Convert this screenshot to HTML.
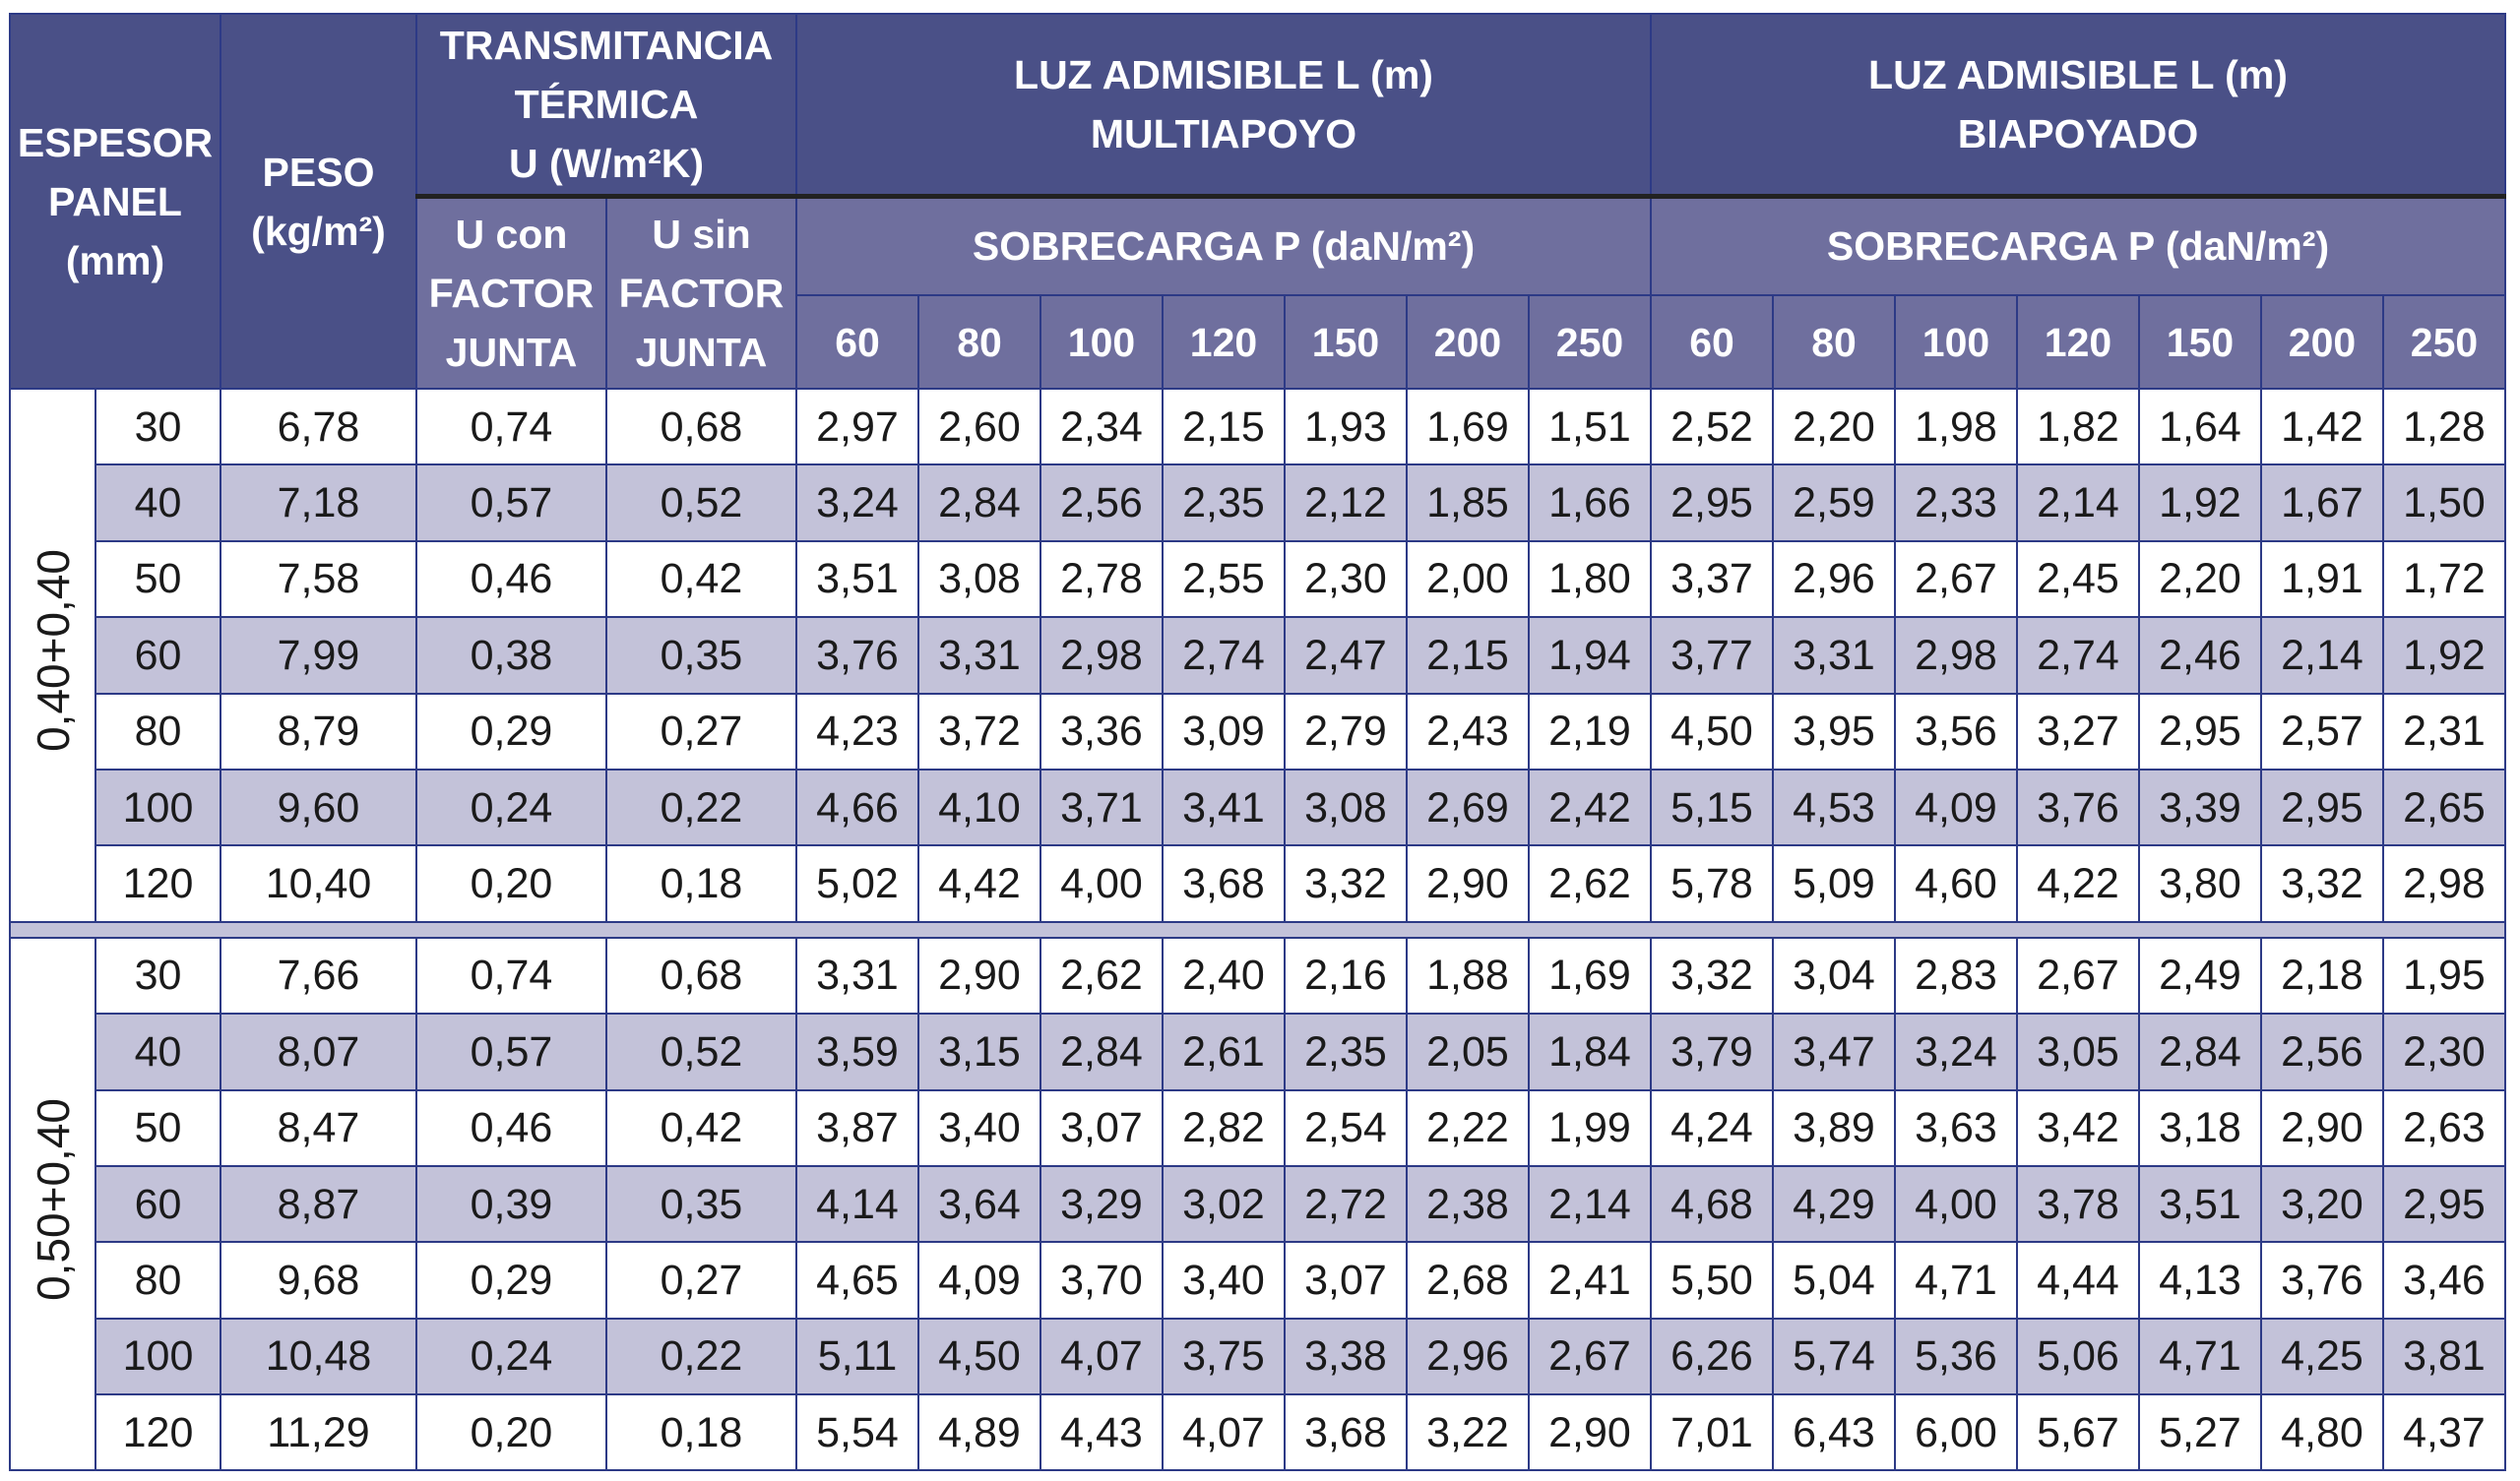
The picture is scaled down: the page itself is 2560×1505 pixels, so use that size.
<!DOCTYPE html>
<html><head><meta charset="utf-8"><style>
html,body{margin:0;padding:0;background:#fff;width:2560px;height:1505px;overflow:hidden}
table{position:absolute;left:9px;top:13px;border-collapse:collapse;table-layout:fixed;font-family:"Liberation Sans",sans-serif}
td{border:2px solid #2d3a86;text-align:center;vertical-align:middle;padding:0;font-size:43px;line-height:48px;color:#1a1a1a;overflow:hidden;white-space:nowrap}
.h1{background:#4a5087;color:#fff;font-weight:bold;font-size:41px;line-height:60px;white-space:normal}
.h2{background:#6f6f9e;color:#fff;font-weight:bold;font-size:41px;line-height:60px;white-space:normal}
.tk{border-bottom:5px solid #222}
.lav td.d{background:#c3c2d9}
.sep td{background:#c3c2d9;height:14px;line-height:1px;font-size:1px}
.rot{writing-mode:vertical-rl;transform:rotate(180deg);display:inline-block;font-size:46px}
tr.r td{height:75.4px}
</style></head><body>
<table>
<colgroup><col style="width:87px"><col style="width:127px"><col style="width:199px"><col style="width:193px"><col style="width:193px">
<col style="width:124px"><col style="width:124px"><col style="width:124px"><col style="width:124px"><col style="width:124px"><col style="width:124px"><col style="width:124px">
<col style="width:124px"><col style="width:124px"><col style="width:124px"><col style="width:124px"><col style="width:124px"><col style="width:124px"><col style="width:124px"></colgroup>
<tr style="height:185px"><td class="h1" colspan="2" rowspan="3">ESPESOR<br>PANEL<br>(mm)</td><td class="h1" rowspan="3">PESO<br>(kg/m²)</td><td class="h1 tk" colspan="2">TRANSMITANCIA<br>TÉRMICA<br>U (W/m²K)</td><td class="h1 tk" colspan="7">LUZ ADMISIBLE L (m)<br>MULTIAPOYO</td><td class="h1 tk" colspan="7">LUZ ADMISIBLE L (m)<br>BIAPOYADO</td></tr>
<tr style="height:101px"><td class="h2" rowspan="2">U con<br>FACTOR<br>JUNTA</td><td class="h2" rowspan="2">U sin<br>FACTOR<br>JUNTA</td><td class="h2" colspan="7">SOBRECARGA P (daN/m²)</td><td class="h2" colspan="7">SOBRECARGA P (daN/m²)</td></tr>
<tr style="height:95px"><td class="h2">60</td><td class="h2">80</td><td class="h2">100</td><td class="h2">120</td><td class="h2">150</td><td class="h2">200</td><td class="h2">250</td><td class="h2">60</td><td class="h2">80</td><td class="h2">100</td><td class="h2">120</td><td class="h2">150</td><td class="h2">200</td><td class="h2">250</td></tr>
<tr class="r"><td rowspan="7"><span class="rot">0,40+0,40</span></td><td class="d">30</td><td class="d">6,78</td><td class="d">0,74</td><td class="d">0,68</td><td class="d">2,97</td><td class="d">2,60</td><td class="d">2,34</td><td class="d">2,15</td><td class="d">1,93</td><td class="d">1,69</td><td class="d">1,51</td><td class="d">2,52</td><td class="d">2,20</td><td class="d">1,98</td><td class="d">1,82</td><td class="d">1,64</td><td class="d">1,42</td><td class="d">1,28</td></tr>
<tr class="r lav"><td class="d">40</td><td class="d">7,18</td><td class="d">0,57</td><td class="d">0,52</td><td class="d">3,24</td><td class="d">2,84</td><td class="d">2,56</td><td class="d">2,35</td><td class="d">2,12</td><td class="d">1,85</td><td class="d">1,66</td><td class="d">2,95</td><td class="d">2,59</td><td class="d">2,33</td><td class="d">2,14</td><td class="d">1,92</td><td class="d">1,67</td><td class="d">1,50</td></tr>
<tr class="r"><td class="d">50</td><td class="d">7,58</td><td class="d">0,46</td><td class="d">0,42</td><td class="d">3,51</td><td class="d">3,08</td><td class="d">2,78</td><td class="d">2,55</td><td class="d">2,30</td><td class="d">2,00</td><td class="d">1,80</td><td class="d">3,37</td><td class="d">2,96</td><td class="d">2,67</td><td class="d">2,45</td><td class="d">2,20</td><td class="d">1,91</td><td class="d">1,72</td></tr>
<tr class="r lav"><td class="d">60</td><td class="d">7,99</td><td class="d">0,38</td><td class="d">0,35</td><td class="d">3,76</td><td class="d">3,31</td><td class="d">2,98</td><td class="d">2,74</td><td class="d">2,47</td><td class="d">2,15</td><td class="d">1,94</td><td class="d">3,77</td><td class="d">3,31</td><td class="d">2,98</td><td class="d">2,74</td><td class="d">2,46</td><td class="d">2,14</td><td class="d">1,92</td></tr>
<tr class="r"><td class="d">80</td><td class="d">8,79</td><td class="d">0,29</td><td class="d">0,27</td><td class="d">4,23</td><td class="d">3,72</td><td class="d">3,36</td><td class="d">3,09</td><td class="d">2,79</td><td class="d">2,43</td><td class="d">2,19</td><td class="d">4,50</td><td class="d">3,95</td><td class="d">3,56</td><td class="d">3,27</td><td class="d">2,95</td><td class="d">2,57</td><td class="d">2,31</td></tr>
<tr class="r lav"><td class="d">100</td><td class="d">9,60</td><td class="d">0,24</td><td class="d">0,22</td><td class="d">4,66</td><td class="d">4,10</td><td class="d">3,71</td><td class="d">3,41</td><td class="d">3,08</td><td class="d">2,69</td><td class="d">2,42</td><td class="d">5,15</td><td class="d">4,53</td><td class="d">4,09</td><td class="d">3,76</td><td class="d">3,39</td><td class="d">2,95</td><td class="d">2,65</td></tr>
<tr class="r"><td class="d">120</td><td class="d">10,40</td><td class="d">0,20</td><td class="d">0,18</td><td class="d">5,02</td><td class="d">4,42</td><td class="d">4,00</td><td class="d">3,68</td><td class="d">3,32</td><td class="d">2,90</td><td class="d">2,62</td><td class="d">5,78</td><td class="d">5,09</td><td class="d">4,60</td><td class="d">4,22</td><td class="d">3,80</td><td class="d">3,32</td><td class="d">2,98</td></tr>
<tr class="sep"><td colspan="19"></td></tr>
<tr class="r"><td rowspan="7"><span class="rot">0,50+0,40</span></td><td class="d">30</td><td class="d">7,66</td><td class="d">0,74</td><td class="d">0,68</td><td class="d">3,31</td><td class="d">2,90</td><td class="d">2,62</td><td class="d">2,40</td><td class="d">2,16</td><td class="d">1,88</td><td class="d">1,69</td><td class="d">3,32</td><td class="d">3,04</td><td class="d">2,83</td><td class="d">2,67</td><td class="d">2,49</td><td class="d">2,18</td><td class="d">1,95</td></tr>
<tr class="r lav"><td class="d">40</td><td class="d">8,07</td><td class="d">0,57</td><td class="d">0,52</td><td class="d">3,59</td><td class="d">3,15</td><td class="d">2,84</td><td class="d">2,61</td><td class="d">2,35</td><td class="d">2,05</td><td class="d">1,84</td><td class="d">3,79</td><td class="d">3,47</td><td class="d">3,24</td><td class="d">3,05</td><td class="d">2,84</td><td class="d">2,56</td><td class="d">2,30</td></tr>
<tr class="r"><td class="d">50</td><td class="d">8,47</td><td class="d">0,46</td><td class="d">0,42</td><td class="d">3,87</td><td class="d">3,40</td><td class="d">3,07</td><td class="d">2,82</td><td class="d">2,54</td><td class="d">2,22</td><td class="d">1,99</td><td class="d">4,24</td><td class="d">3,89</td><td class="d">3,63</td><td class="d">3,42</td><td class="d">3,18</td><td class="d">2,90</td><td class="d">2,63</td></tr>
<tr class="r lav"><td class="d">60</td><td class="d">8,87</td><td class="d">0,39</td><td class="d">0,35</td><td class="d">4,14</td><td class="d">3,64</td><td class="d">3,29</td><td class="d">3,02</td><td class="d">2,72</td><td class="d">2,38</td><td class="d">2,14</td><td class="d">4,68</td><td class="d">4,29</td><td class="d">4,00</td><td class="d">3,78</td><td class="d">3,51</td><td class="d">3,20</td><td class="d">2,95</td></tr>
<tr class="r"><td class="d">80</td><td class="d">9,68</td><td class="d">0,29</td><td class="d">0,27</td><td class="d">4,65</td><td class="d">4,09</td><td class="d">3,70</td><td class="d">3,40</td><td class="d">3,07</td><td class="d">2,68</td><td class="d">2,41</td><td class="d">5,50</td><td class="d">5,04</td><td class="d">4,71</td><td class="d">4,44</td><td class="d">4,13</td><td class="d">3,76</td><td class="d">3,46</td></tr>
<tr class="r lav"><td class="d">100</td><td class="d">10,48</td><td class="d">0,24</td><td class="d">0,22</td><td class="d">5,11</td><td class="d">4,50</td><td class="d">4,07</td><td class="d">3,75</td><td class="d">3,38</td><td class="d">2,96</td><td class="d">2,67</td><td class="d">6,26</td><td class="d">5,74</td><td class="d">5,36</td><td class="d">5,06</td><td class="d">4,71</td><td class="d">4,25</td><td class="d">3,81</td></tr>
<tr class="r"><td class="d">120</td><td class="d">11,29</td><td class="d">0,20</td><td class="d">0,18</td><td class="d">5,54</td><td class="d">4,89</td><td class="d">4,43</td><td class="d">4,07</td><td class="d">3,68</td><td class="d">3,22</td><td class="d">2,90</td><td class="d">7,01</td><td class="d">6,43</td><td class="d">6,00</td><td class="d">5,67</td><td class="d">5,27</td><td class="d">4,80</td><td class="d">4,37</td></tr>
</table>
</body></html>
